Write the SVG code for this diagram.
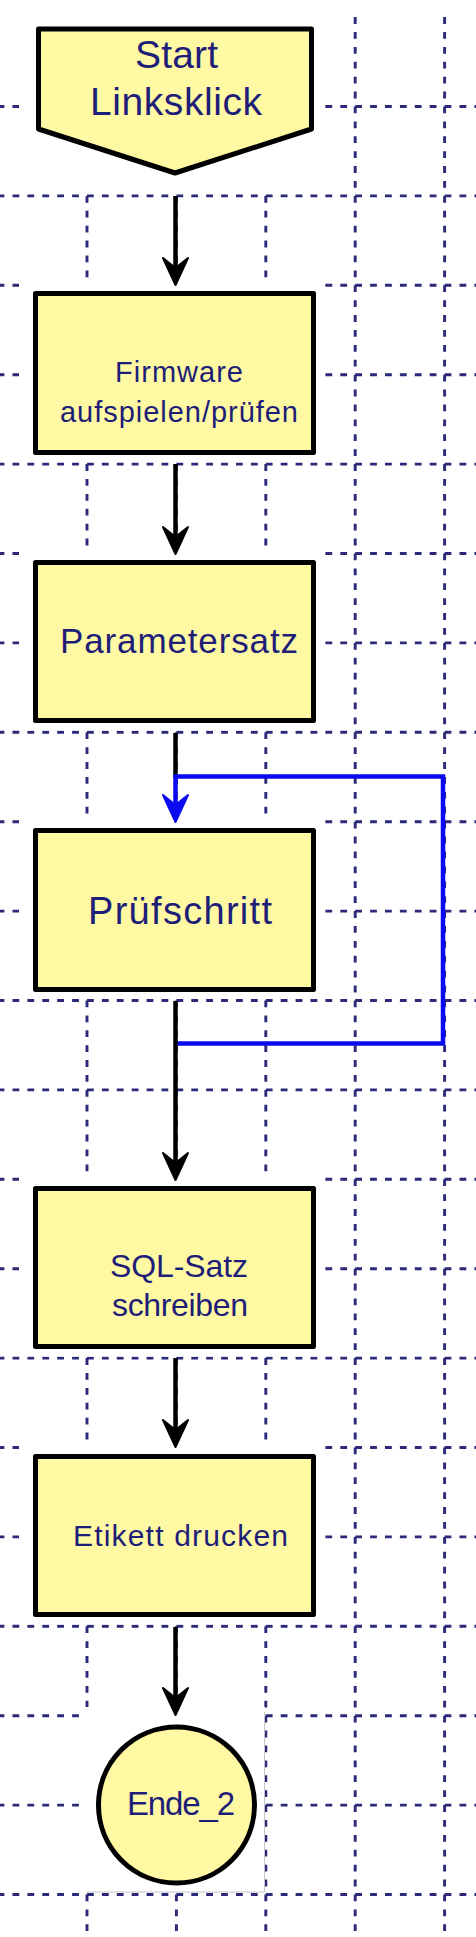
<svg xmlns="http://www.w3.org/2000/svg" xmlns:xlink="http://www.w3.org/1999/xlink" width="476" height="1937" viewBox="0 0 476 1937">
<style>
.grid{fill:none;stroke:#2B2978;stroke-width:2.9;stroke-dasharray:6.8 8.1}
.cover{fill:#fff;stroke:none}
.node{fill:#FFF9A3;stroke:#000;stroke-width:5;stroke-linejoin:round}
.lbl{font-family:"Liberation Sans",Arial,sans-serif;fill:#1E1E78;text-anchor:middle}
.conn{fill:none;stroke:#000;stroke-width:4.5}
.loop{fill:none;stroke:#0A0AF0;stroke-width:4.5;stroke-linejoin:miter}
</style>
<defs>
<path id="ah" d="M0,0 L-12.5,-27 L0,-17 L12.5,-27 Z" stroke-width="2" stroke-linejoin="round"/>
</defs>
<rect width="476" height="1937" fill="#fff"/>
<g id="grid">
<path class="grid" d="M-2.4 106.5H476M-2.4 195.9H476M-2.4 285.3H476M-2.4 374.7H476M-2.4 464.1H476M-2.4 553.5H476M-2.4 642.9H476M-2.4 732.3H476M-2.4 821.7H476M-2.4 911.1H476M-2.4 1000.5H476M-2.4 1089.9H476M-2.4 1179.3H476M-2.4 1268.7H476M-2.4 1358.1H476M-2.4 1447.5H476M-2.4 1536.9H476M-2.4 1626.3H476M-2.4 1715.7H476M-2.4 1805.1H476M-2.4 1894.5H476"/>
<path class="grid" d="M87 17.1V1937M176.4 17.1V1937M265.8 17.1V1937M355.2 17.1V1937M444.6 17.1V1937"/>
</g>
<g id="covers">
<rect class="cover" x="19" y="8" width="306" height="185.5"/>
<rect class="cover" x="19" y="278" width="306" height="184"/>
<rect class="cover" x="19" y="547" width="306" height="183.5"/>
<rect class="cover" x="19" y="815" width="306" height="183.5"/>
<rect class="cover" x="19" y="1172" width="306" height="184.5"/>
<rect class="cover" x="19" y="1440" width="306" height="184.5"/>
<rect class="cover" x="80" y="1707" width="185" height="186"/>
<path d="M264.5 1712V1892H87" fill="none" stroke="#c4c4c4" stroke-width="1"/>
</g>
<g id="connectors">
<path class="conn" d="M175.5 196V270"/>
<use xlink:href="#ah" x="175.5" y="285" fill="#000" stroke="#000"/>
<path class="conn" d="M175.5 464V539"/>
<use xlink:href="#ah" x="175.5" y="554" fill="#000" stroke="#000"/>
<path class="conn" d="M175.5 733V778"/>
<path class="loop" d="M175.5 807V776.5H443V1043.5H177"/>
<use xlink:href="#ah" x="175.5" y="822" fill="#0A0AF0" stroke="#0A0AF0"/>
<path class="conn" d="M175.5 1001V1165"/>
<use xlink:href="#ah" x="175.5" y="1180" fill="#000" stroke="#000"/>
<path class="conn" d="M175.5 1358V1432"/>
<use xlink:href="#ah" x="175.5" y="1447" fill="#000" stroke="#000"/>
<path class="conn" d="M175.5 1627V1700"/>
<use xlink:href="#ah" x="175.5" y="1715" fill="#000" stroke="#000"/>
</g>
<g id="start">
<path class="node" d="M38.5 29H311.5V129L175 173L38.5 129Z"/>
<text class="lbl" x="176.5" y="68" font-size="39" textLength="83">Start</text>
<text class="lbl" x="176" y="115" font-size="39" textLength="172">Linksklick</text>
</g>
<g id="firmware">
<rect class="node" x="35.5" y="293.5" width="278" height="159"/>
<text class="lbl" x="179" y="382" font-size="29" textLength="128">Firmware</text>
<text class="lbl" x="179" y="422" font-size="29" textLength="238">aufspielen/prüfen</text>
</g>
<g id="parametersatz">
<rect class="node" x="35.5" y="562.5" width="278" height="158"/>
<text class="lbl" x="179" y="653" font-size="35" textLength="238">Parametersatz</text>
</g>
<g id="pruefschritt">
<rect class="node" x="35.5" y="830.5" width="278" height="159"/>
<text class="lbl" x="180" y="924" font-size="38" textLength="184">Prüfschritt</text>
</g>
<g id="sql">
<rect class="node" x="35.5" y="1188.5" width="278" height="158"/>
<text class="lbl" x="179" y="1277" font-size="32" textLength="138">SQL-Satz</text>
<text class="lbl" x="180" y="1316" font-size="32" textLength="136">schreiben</text>
</g>
<g id="etikett">
<rect class="node" x="35.5" y="1456.5" width="278" height="158"/>
<text class="lbl" x="180.5" y="1546" font-size="30" textLength="215">Etikett drucken</text>
</g>
<g id="ende">
<circle class="node" cx="176.5" cy="1805" r="78"/>
<text class="lbl" x="181" y="1815" font-size="33" textLength="108">Ende_2</text>
</g>
</svg>
